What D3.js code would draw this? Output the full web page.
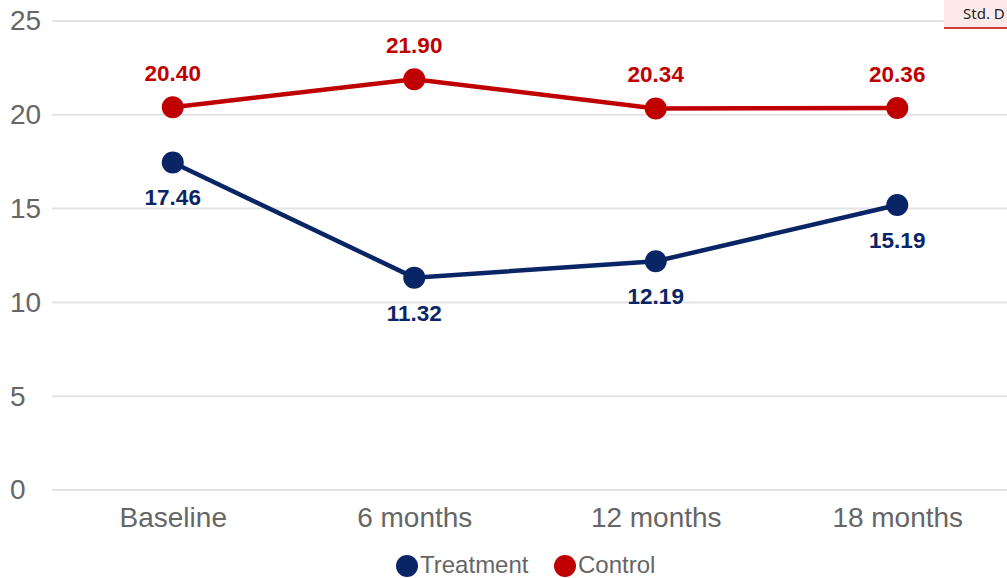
<!DOCTYPE html>
<html>
<head>
<meta charset="utf-8">
<script src="https://cdn.jsdelivr.net/npm/d3@7"></script>
<style>
  html, body { margin: 0; padding: 0; background: #fff; overflow: hidden; }
  svg { display: block; font-family: "Liberation Sans", Arial, sans-serif; }
</style>
</head>
<body>
<svg id="chart" width="1007" height="578"></svg>
<script>
// Time points and series values
const categories = ["Baseline", "6 months", "12 months", "18 months"];
const treatment = [17.46, 11.32, 12.19, 15.19];
const control = [20.40, 21.90, 20.34, 20.36];
const yTicks = [0, 5, 10, 15, 20, 25];
const seriesNames = ["Treatment", "Control"];
const seriesColors = ["#0a2565", "#c00000"];

(function () {
const svg = d3.select("#chart");
const W = 1007, H = 578;
const plotLeft = 52, plotRight = 1018, plotTop = 21, plotBottom = 490;

const x = d3.scalePoint().domain(categories).range([plotLeft, plotRight]).padding(0.5);
const y = d3.scaleLinear().domain([0, 25]).range([plotBottom, plotTop]);

// Horizontal gridlines
svg.append("g").selectAll("line").data(yTicks).join("line")
  .attr("x1", plotLeft).attr("x2", W)
  .attr("y1", d => y(d)).attr("y2", d => y(d))
  .attr("stroke", "#e3e3e3").attr("stroke-width", 2);

// Y axis labels
const yAxis = d3.axisLeft(y).tickValues(yTicks).tickSize(0).tickPadding(0);
const yg = svg.append("g").attr("transform", "translate(10,0)").call(yAxis);
yg.select(".domain").remove();
yg.selectAll("text").attr("text-anchor", "start").attr("x", 0)
  .attr("font-size", 28).attr("fill", "#666").attr("font-family", "Liberation Sans, Arial, sans-serif");

// X axis labels
const xAxis = d3.axisBottom(x).tickSize(0).tickPadding(0);
const xg = svg.append("g").attr("transform", `translate(0,${plotBottom + 17})`).call(xAxis);
xg.select(".domain").remove();
xg.selectAll("text").attr("dy", "0.71em")
  .attr("font-size", 28).attr("fill", "#666").attr("font-family", "Liberation Sans, Arial, sans-serif");

const line = d3.line().x((d, i) => x(categories[i])).y(d => y(d));

const series = [
  { name: seriesNames[0], values: treatment, color: seriesColors[0], labelDy: 43 },
  { name: seriesNames[1], values: control, color: seriesColors[1], labelDy: -26 }
];

series.forEach(s => {
  const g = svg.append("g");
  g.append("path").datum(s.values)
    .attr("d", line).attr("fill", "none")
    .attr("stroke", s.color).attr("stroke-width", 4.5);
  g.selectAll("circle").data(s.values).join("circle")
    .attr("cx", (d, i) => x(categories[i])).attr("cy", d => y(d))
    .attr("r", 11).attr("fill", s.color);
  g.selectAll("text").data(s.values).join("text")
    .attr("x", (d, i) => x(categories[i])).attr("y", d => y(d) + s.labelDy)
    .attr("text-anchor", "middle").attr("font-size", 22.5).attr("font-weight", "bold")
    .attr("fill", s.color).text(d => d.toFixed(2));
});

// Legend
const legend = svg.append("g");
const legendItems = [
  { name: seriesNames[0], color: seriesColors[0], cx: 407 },
  { name: seriesNames[1], color: seriesColors[1], cx: 565 }
];
legendItems.forEach(it => {
  legend.append("circle").attr("cx", it.cx).attr("cy", 566).attr("r", 11).attr("fill", it.color);
  legend.append("text").attr("x", it.cx + 13).attr("y", 573)
    .attr("font-size", 24).attr("fill", "#666").text(it.name);
});

// Tab in the top-right corner
const tab = svg.append("g");
tab.append("rect").attr("x", 944).attr("y", 0).attr("width", 63).attr("height", 28).attr("fill", "#fde9e9");
tab.append("line").attr("x1", 944).attr("x2", W).attr("y1", 28).attr("y2", 28)
  .attr("stroke", "#c00000").attr("stroke-width", 1.5);
tab.append("text").attr("x", 963).attr("y", 19).attr("font-size", 15)
  .attr("font-family", "Noto Sans, DejaVu Sans, sans-serif").attr("fill", "#222").text("Std. D");
})();
</script>
</body>
</html>
